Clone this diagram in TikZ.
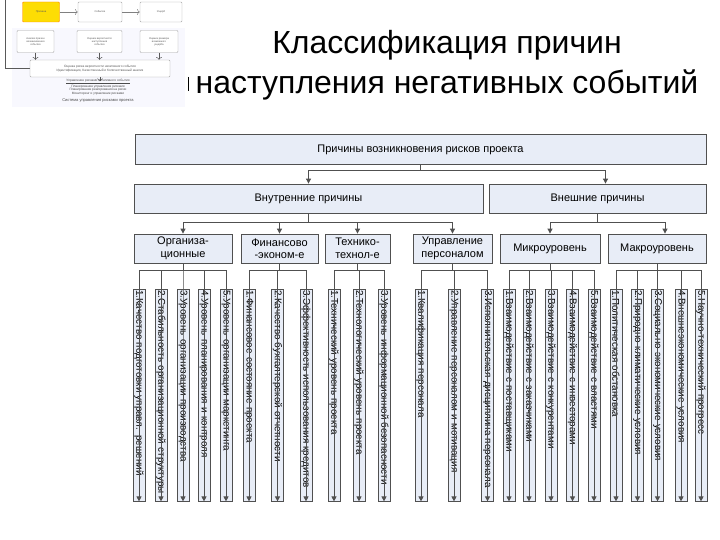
\documentclass[tikz,border=0pt]{standalone}
\usepackage{fontspec}
\setmainfont{Liberation Sans}
\usetikzlibrary{arrows.meta}
\definecolor{boxfill}{HTML}{E8EDF7}
\definecolor{boxline}{HTML}{505050}
\begin{document}
\begin{tikzpicture}[x=1pt,y=-1pt,
  bx/.style={draw=boxline,fill=boxfill,line width=0.8pt,inner sep=0pt,align=center,font=\fontsize{11}{12.5}\selectfont},
  lab/.style={inner sep=0pt,align=center,font=\fontsize{11}{12.5}\selectfont},
  leaf/.style={draw=boxline,fill=boxfill,line width=0.8pt,inner sep=1pt,rotate=-90,minimum height=12pt,text width=210pt,align=left,font=\fontsize{9.8}{10}\selectfont},
  arr/.style={draw=boxline,line width=0.9pt,-{Triangle[length=5pt,width=5pt]}},
  tb/.style={draw=gray!70,fill=white,rounded corners=1pt,inner sep=0pt,align=center,text=gray!70!black,font=\fontsize{2.6}{3}\selectfont},
  ttxt/.style={font=\fontsize{3.2}{3.6}\selectfont,align=center,inner sep=0pt,text=gray!60!black}]
\useasboundingbox (0,0) rectangle (720,540);
% thumbnail
\fill[boxfill!80!blue!10] (12,28) rectangle (185,107);
\draw[gray!70!black,line width=0.6pt] (5,0) -- (5,68) -- (30,68);
\node[tb,fill=yellow!80!orange,draw=orange,minimum width=37pt,minimum height=20pt] (t1) at (41,12) {Причина};
\node[tb,minimum width=44pt,minimum height=20pt] (t2) at (100,12) {Событие};
\node[tb,minimum width=42pt,minimum height=20pt] (t3) at (161,12) {Ущерб};
\draw[gray,line width=0.5pt,->] (t1) -- (t2);
\draw[gray,line width=0.5pt,->] (t2) -- (t3);
\node[tb,minimum width=37pt,minimum height=22pt] (s1) at (35.5,41.5) {Анализ причин\\возникновения\\события};
\node[tb,minimum width=45pt,minimum height=22pt] (s2) at (99.5,41.5) {Оценка вероятности\\наступления\\события};
\node[tb,minimum width=38pt,minimum height=22pt] (s3) at (159,41.5) {Оценка размера\\возможного\\ущерба};
\node[tb,minimum width=140pt,minimum height=17pt,font=\fontsize{3.2}{3.8}\selectfont] (s4) at (100,68.5) {Оценка риска вероятности негативного события\\Идентификация, Качественный и Количественный анализ};
\foreach \s in {s1,s2,s3} \draw[gray!70!black,line width=0.5pt,->] (\s.south) -- (\s.south |- s4.north);
\draw[gray!70!black,line width=0.5pt,->] (s4.south) -- ++(0,4);
\node[ttxt] (s5) at (98,87) {\underline{Управление рисками негативного события}\\Планирование управления рисками\\Планирование реагирования на риски\\Мониторинг и управление рисками};
\node[ttxt,font=\fontsize{4}{4.5}\selectfont] (s6) at (98,101) {Система управления рисками проекта};
\draw[black,line width=0.8pt] (188,77) -- (188,91);
% title
\node[font=\fontsize{32}{40}\selectfont,align=center,inner sep=0pt] (title) at (447,65) {Классификация причин\\наступления негативных событий};
% level 1,2
\node[bx,minimum width=571pt,minimum height=30pt] (top) at (420.5,149.5) {Причины возникновения рисков проекта};
\node[bx,minimum width=349pt,minimum height=29pt] (vn) at (308.5,198.5) {Внутренние причины};
\node[bx,minimum width=217pt,minimum height=29pt] (ex) at (597.5,198.5) {Внешние причины};
\draw[arr] (top.south) -- ++(0,6) -| (vn.north);
\draw[arr] (top.south) -- ++(0,6) -| ([xshift=8pt]ex.north);
% level 3
\foreach \nm/\x/\w/\t in {org/183/98/{Организа-\\ционные}, fin/279.5/77/{Финансово\\-эконом-е}, teh/357.5/65/{Технико-\\технол-е}, upr/452.5/79/{Управление\\персоналом}, mik/550/100/{Микроуровень}, mak/657/98/{Макроуровень}} {
  \node[bx,minimum width=\w pt,minimum height=29pt] (\nm) at (\x,248.5) {};
  \node[lab] (\nm t) at (\nm) {\t};
}
\foreach \c in {org,fin,teh,upr} \draw[arr] (vn.south) -- ++(0,9) -| (\c.north);
\draw[arr] (ex.south) -- ++(0,9) -| (mik.north);
\draw[arr] (ex.south) -- ++(0,9) -| ([xshift=8pt]mak.north);
% leaves
\foreach \n/\x/\p/\t in {
 1/139/org/{1.Качество подготовки управл. решений},
 2/161/org/{2.Стабильность организационной структуры},
 3/183/org/{3.Уровень организации производства},
 4/204/org/{4.Уровень планирования и контроля},
 5/226/org/{5.Уровень организации маркетинга},
 6/249/fin/{1.Финансовое состояние проекта},
 7/277.5/fin/{2.Качество бухгалтерской отчетности},
 8/306/fin/{3.Эффективность использования кредитов},
 9/334/teh/{1.Технический уровень проекта},
 10/359/teh/{2.Технологический уровень проекта},
 11/384/teh/{3.Уровень информационной безопасности},
 12/421/upr/{1.Квалификация персонала},
 13/454/upr/{2.Управление персоналом и мотивация},
 14/487.5/upr/{3.Исполнительская дисциплина персонала},
 15/509/mik/{1.Взаимодействие с поставщиками},
 16/529/mik/{2.Взаимодействие с заказчиками},
 17/551/mik/{3.Взаимодействие с конкурентами},
 18/572.5/mik/{4.Взаимодействие с инвесторами},
 19/594/mik/{5.Взаимодействие с властями},
 20/616/mak/{1.Политическая обстановка},
 21/637.5/mak/{2.Природно-климатические условия},
 22/657.5/mak/{3.Социально-экономические условия},
 23/681/mak/{4.Внешнеэкономические условия},
 24/701/mak/{5.Научно-технический прогресс}} {
  \node[leaf] (l\n) at (\x,395) {\t};
  \draw[arr] (\p.south) -- ++(0,7) -| (l\n.east);
}
\end{tikzpicture}
\end{document}
